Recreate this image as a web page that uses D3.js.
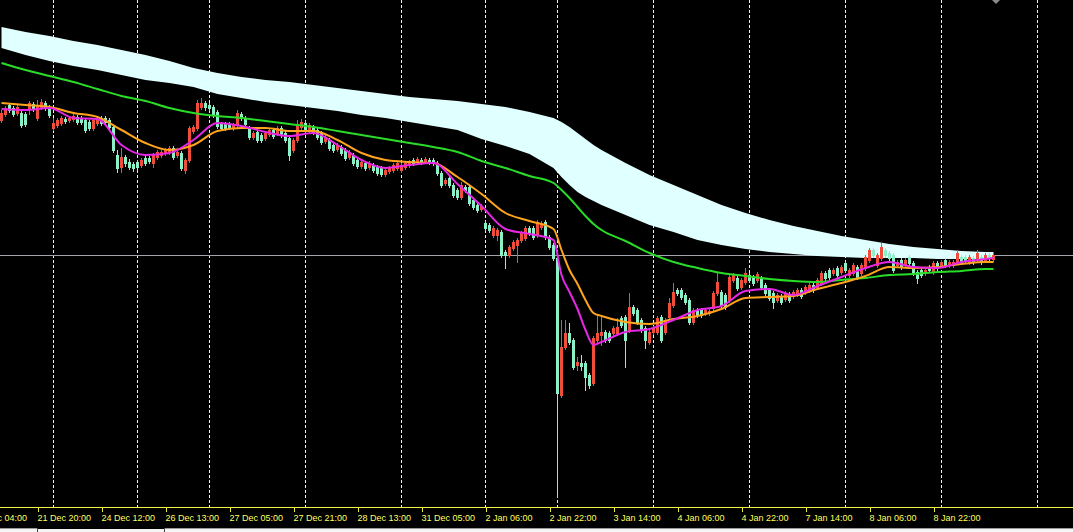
<!DOCTYPE html>
<html><head><meta charset="utf-8">
<script src="https://cdn.jsdelivr.net/npm/d3@7"></script>
<style>html,body{margin:0;padding:0;background:#000;overflow:hidden}</style>
</head><body><svg id="c" width="1073" height="532"></svg>
<script>
// ---- candle data (H1 bars), price units ----
const opens=[
880,886,895,892,887,887,886,892,896,882,
893,897,893,872,875,877,881,880,881,883,
882,880,878,872,877,882,882,880,873,845,
833,843,838,836,838,835,842,842,837,843,
845,847,848,852,845,847,830,840,869,872,
893,897,895,893,888,876,876,876,872,875,
886,882,872,863,868,865,862,866,870,867,
872,867,862,850,860,873,877,870,873,870,
867,859,860,855,851,853,850,843,845,840,
834,837,833,835,833,832,826,829,830,832,
830,833,835,840,838,840,839,840,840,837,
827,817,822,815,810,803,813,813,800,795,
791,777,775,765,765,768,748,745,752,755,
760,762,772,772,765,773,778,763,755,742,
605,653,667,660,635,637,637,625,617,660,
665,668,667,667,667,682,683,670,693,690,
680,672,658,668,668,683,668,683,695,710,
710,705,700,678,690,690,687,687,692,707,
708,705,700,720,722,713,718,725,723,720,
722,715,710,707,700,704,701,706,704,706,
710,708,710,715,713,717,727,730,727,732,
728,737,725,727,733,727,732,740,750,735,
742,750,747,745,735,740,735,743,737,728,
730,727,733,728,737,735,740,735,735,738,
743,743,738,742,740,743,740,745,741];
const highs=[
890,894,897,894,895,890,888,899,898,900,
901,899,895,882,882,884,883,884,886,885,
884,882,880,882,882,884,884,882,875,850,
852,845,841,838,840,842,844,844,847,850,
850,852,854,854,850,849,842,874,875,900,
902,899,897,895,890,878,878,878,877,890,
888,884,874,869,870,867,869,872,872,874,
874,869,864,862,880,881,879,877,875,872,
869,865,862,857,857,855,852,850,847,842,
840,839,839,837,835,834,832,834,837,839,
837,839,840,842,843,842,843,842,842,839,
829,822,824,817,812,818,815,815,802,797,
796,779,777,774,772,770,750,755,760,762,
769,774,774,774,780,779,780,765,757,745,
680,680,677,662,643,645,639,627,664,685,
683,670,669,674,682,684,685,707,695,692,
682,674,670,674,684,685,682,702,717,712,
712,707,702,692,692,692,692,691,709,727,
710,707,725,727,724,722,732,727,725,728,
724,717,712,709,707,706,709,708,710,712,
712,715,717,717,722,729,729,732,732,734,
735,739,732,737,735,737,745,752,752,747,
757,752,749,747,740,742,742,745,739,730,
732,732,735,739,739,740,742,740,740,750,
745,745,745,744,750,745,747,747,747];
const lows=[
878,884,888,884,885,873,874,886,889,880,
891,890,883,870,873,875,877,878,879,876,
876,868,870,870,875,875,876,871,848,828,
828,834,831,829,831,833,835,837,833,841,
843,845,846,841,843,830,827,838,867,870,
891,890,890,883,872,870,870,871,870,873,
880,874,861,861,858,858,860,864,862,865,
863,858,840,848,858,871,868,868,866,861,
856,857,850,848,849,845,840,841,835,832,
832,830,831,828,825,824,824,827,828,830,
828,831,833,835,836,836,837,836,835,825,
813,815,813,803,801,801,808,795,791,788,
789,770,768,763,760,743,732,743,750,738,
758,760,765,761,763,771,761,751,740,503,
603,651,656,631,630,630,610,612,615,658,
655,658,658,665,665,673,633,668,685,676,
668,652,656,666,666,658,666,681,693,705,
701,696,676,676,683,683,685,685,690,705,
693,691,698,718,710,711,716,718,715,718,
711,705,700,692,698,696,699,698,702,704,
702,706,708,708,711,715,720,721,725,723,
726,728,723,725,721,725,730,738,743,733,
740,743,740,728,733,731,733,735,725,717,
723,725,728,726,730,733,733,733,733,736,
736,738,736,736,738,736,738,740,739];
const closes=[
887,892,890,886,893,875,876,897,891,895,
898,892,885,877,880,882,879,882,884,878,
878,870,872,880,880,877,878,873,850,832,
843,837,833,832,833,840,837,839,845,848,
848,850,852,843,848,832,840,872,873,897,
897,893,892,885,874,872,872,873,875,887,
882,876,863,867,860,860,867,870,864,872,
865,860,845,860,875,878,870,875,868,863,
858,863,852,850,855,847,842,848,837,834,
838,832,837,830,827,826,830,832,835,837,
835,837,838,837,841,838,841,838,837,827,
815,820,815,805,803,815,810,797,793,790,
794,772,770,772,770,745,745,753,758,760,
767,772,767,763,778,777,763,753,742,607,
653,667,658,633,638,634,623,615,662,667,
668,660,660,672,673,675,660,693,687,678,
670,660,668,672,682,660,680,697,708,707,
703,698,678,690,685,685,690,689,707,718,
695,693,723,725,712,720,727,720,717,726,
713,707,702,698,705,698,707,700,708,710,
704,713,715,710,720,727,722,723,730,725,
733,730,730,735,723,735,743,750,745,745,
753,745,742,730,738,733,740,737,727,722,
725,730,730,737,732,738,735,738,738,747,
738,740,743,738,747,738,745,742,745];

// ---- indicator readings at these bar indices ----
const maIdx=[0,6,12,18,24,30,36,42,48,54,60,66,72,78,84,90,96,102,108,114,120,126,132,
 138,140,142,144,146,148,150,
 156,162,168,174,180,186,192,198,204,210,216,222,228,234,240,246,248];
const maFast=[891,890,892,882,881,855,845,847,860,877,874,868,864,867,855,840,832,835,837,816,794,771,766,
 760,725,708,691,670,655,658,
 668,671,680,690,694,709,711,705,714,723,732,738,733,732,738,741,742];
const maMid=[897,895,893,887,883,870,857,850,855,869,872,872,869,869,860,847,840,838,837,823,806,787,779,
 771,750,730,716,700,687,684,
 678,676,681,684,691,702,703,704,711,717,724,733,732,733,736,738,738];
const maSlow=[937,930,924,918,911,904,899,892,887,884,882,879,876,873,869,865,861,857,853,848,839,832,824,
 817,810,802,793,784,776,770,
 759,747,738,732,727,724,721,719,718,720,722,725,726,728,729,731,731];
const bandUpper=[973,968,964,959,955,950,945,939,932,927,923,920,918,915,912,909,906,903,901,899,896,893,888,
 882,878,873,867,861,855,850,
 837,825,815,805,795,787,780,774,769,764,760,756,753,751,749,748,748];
const bandLower=[952,945,939,934,930,925,920,917,913,906,902,898,895,892,889,885,882,878,874,870,861,854,846,
 832,823,815,808,803,799,795,
 785,775,768,760,755,751,748,746,744,743,742,742,742,741,741,741,741];

// ---- time axis ----
const tickIdx=[-7,9,25,41,57,73,89,105,121,137,153,169,185,201,217,233];
const tickLabels=["21 Dec 04:00","21 Dec 20:00","24 Dec 12:00","26 Dec 13:00","27 Dec 05:00","27 Dec 21:00",
 "28 Dec 13:00","31 Dec 05:00","2 Jan 06:00","2 Jan 22:00","3 Jan 14:00","4 Jan 06:00","4 Jan 22:00",
 "7 Jan 14:00","8 Jan 06:00","8 Jan 22:00"];
const gridIdx=[13,34,52,76,100,121,139,163,187,211,235,259];

const W=1073,H=532,AXY=507;
const bull="#f24d3a", bear="#8cf0c8";
const x=d3.scaleLinear().domain([0,268]).range([1,1073]);
const y=d3.scaleLinear().domain([495,1000]).range([505,0]);
const svg=d3.select("#c");
svg.append("rect").attr("width",W).attr("height",H).attr("fill","#000");
svg.append("defs").append("clipPath").attr("id","pc").append("rect").attr("x",0).attr("y",0).attr("width",W).attr("height",AXY);
const plot=svg.append("g").attr("clip-path","url(#pc)");

// grid
plot.append("g").selectAll("line").data(gridIdx).join("line")
  .attr("x1",d=>x(d)+0.5).attr("x2",d=>x(d)+0.5).attr("y1",0).attr("y2",AXY)
  .attr("stroke","#fafab4").attr("stroke-width",1).attr("stroke-dasharray","3,2")
  .attr("shape-rendering","crispEdges");

// bid line
const last=closes[closes.length-1];
plot.append("line").attr("x1",0).attr("x2",W).attr("y1",y(last)+0.5).attr("y2",y(last)+0.5)
  .attr("stroke","#a4a4ac").attr("stroke-width",1).attr("shape-rendering","crispEdges");

// band
const bandData=maIdx.map((d,i)=>({i:d,u:bandUpper[i],l:bandLower[i]}));
plot.append("path").datum(bandData)
  .attr("d",d3.area().x(d=>x(d.i)+0.5).y0(d=>y(d.l)).y1(d=>y(d.u)))
  .attr("fill","#e0ffff");

// candles
const bars=closes.map((c,i)=>({i,o:opens[i],h:highs[i],l:lows[i],c}));
const cg=plot.append("g").attr("shape-rendering","crispEdges");
cg.selectAll("line").data(bars).join("line")
  .attr("x1",d=>x(d.i)+0.5).attr("x2",d=>x(d.i)+0.5)
  .attr("y1",d=>y(d.h)).attr("y2",d=>y(d.l)+1)
  .attr("stroke",d=>d.c>d.o?bull:bear).attr("stroke-width",1);
cg.selectAll("rect").data(bars).join("rect")
  .attr("x",d=>x(d.i)-1).attr("width",3)
  .attr("y",d=>y(Math.max(d.o,d.c)))
  .attr("height",d=>Math.max(1,Math.abs(y(d.o)-y(d.c))+1))
  .attr("fill",d=>d.c>d.o?bull:bear);

// moving averages
const line=vals=>d3.line().x((d,i)=>x(maIdx[i])+0.5).y(d=>y(d)).curve(d3.curveMonotoneX)(vals);
[[maSlow,"#28dc28"],[maMid,"#ffa41c"],[maFast,"#e628e6"]].forEach(([v,c])=>{
  plot.append("path").attr("d",line(v)).attr("fill","none").attr("stroke",c).attr("stroke-width",2);
});

// shift marker
svg.append("path").attr("d","M992,0L1000,0L996,4Z").attr("fill","#8a8a8a");

// time axis
svg.append("line").attr("x1",0).attr("x2",W).attr("y1",AXY+0.5).attr("y2",AXY+0.5)
  .attr("stroke","#f0f040").attr("stroke-width",1);
const ax=svg.append("g").attr("transform",`translate(0,${AXY+1})`)
  .call(d3.axisBottom(x).tickValues(tickIdx).tickFormat((d,i)=>tickLabels[i]).tickSize(4).tickSizeOuter(0).tickPadding(3));
ax.select(".domain").remove();
ax.selectAll(".tick line").attr("stroke","#f0f040").attr("transform","translate(0.5,0)").attr("shape-rendering","crispEdges");
ax.selectAll(".tick text").attr("text-anchor","start").attr("x",0)
  .attr("fill","#ffff60").style("font-family","'Liberation Sans',Arial,sans-serif").style("font-size","9px");

// tab strip
svg.append("rect").attr("x",0).attr("y",529).attr("width",W).attr("height",3).attr("fill","#f4f4f4");
svg.append("line").attr("x1",0).attr("x2",37).attr("y1",528.5).attr("y2",528.5).attr("stroke","#9a9a9a");
svg.append("line").attr("x1",165).attr("x2",W).attr("y1",528.5).attr("y2",528.5).attr("stroke","#9a9a9a");
[37.5,164.5].forEach(v=>svg.append("line").attr("x1",v).attr("x2",v).attr("y1",528).attr("y2",532).attr("stroke","#404040"));
</script></body></html>
